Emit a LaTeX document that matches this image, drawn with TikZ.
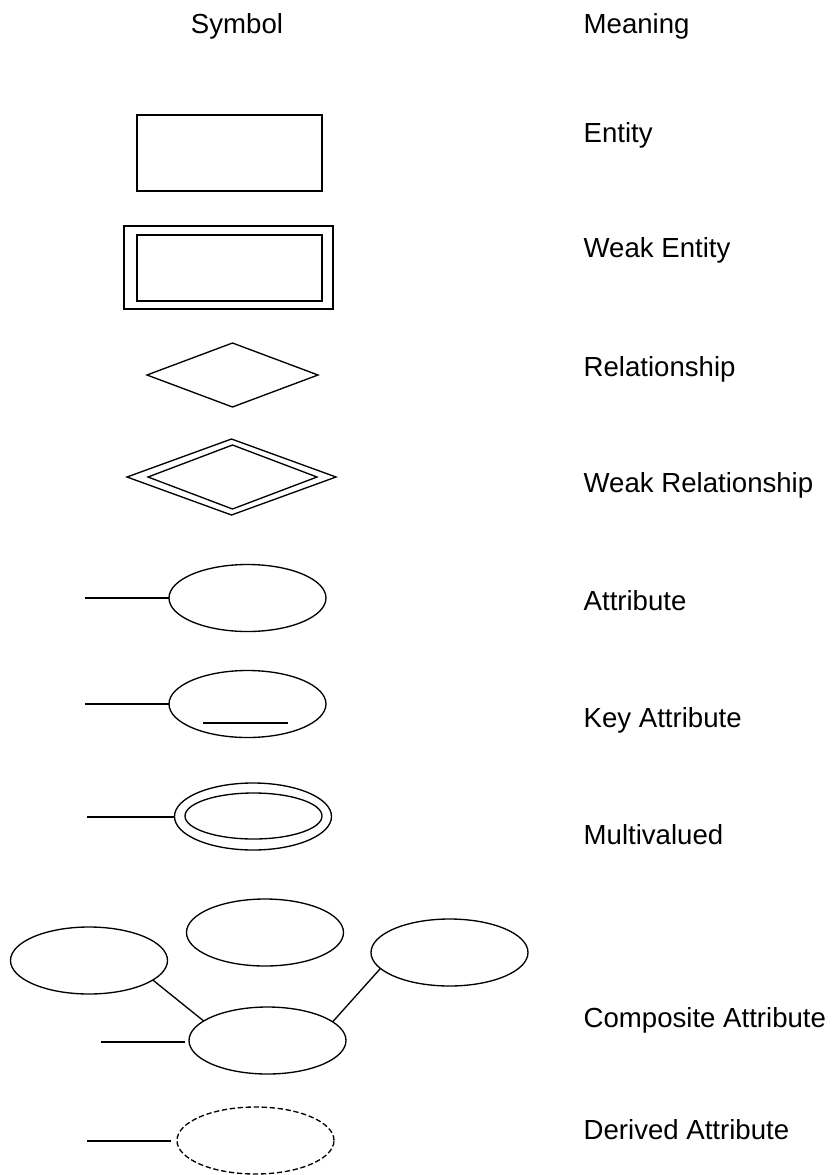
\documentclass[tikz,border=0pt]{standalone}
\usepackage{fontspec}
\setmainfont{Liberation Sans}
\usetikzlibrary{shapes.geometric}

\begin{document}
\begin{tikzpicture}[
    x=0.75pt, y=-0.75pt,
    line width=1pt,
    every node/.style={font=\fontsize{20.7}{25}\selectfont},
    label/.style={
        anchor=base west,
        inner sep=0pt
    },
    shapebox/.style={
        draw,
        inner sep=0pt,
        outer sep=0pt
    },
    attrshape/.style={
        shapebox,
        ellipse,
        minimum width=117.75pt,
        minimum height=50.25pt
    }
]
    \useasboundingbox (0,0) rectangle (836,1175);

    % Column headings
    \node[anchor=base, inner sep=0pt] (symhead) at (237,33) {Symbol};
    \node[label] (meanhead) at (583,33) {Meaning};

    % Entities
    \node[shapebox, rectangle, minimum width=138.75pt, minimum height=57pt]
        (ent) at (229.5,153) {};
    \node[shapebox, rectangle, minimum width=156.75pt, minimum height=62.25pt]
        (wkent) at (228.5,267.5) {};
    \node[shapebox, rectangle, minimum width=138.75pt, minimum height=49.5pt]
        (wkentin) at (229.5,268) {};

    % Relationships
    \node[shapebox, diamond, minimum width=128.25pt, minimum height=48pt]
        (rel) at (232.5,375) {};
    \node[shapebox, diamond, minimum width=156.75pt, minimum height=57pt]
        (wkrel) at (231.5,477) {};
    \node[shapebox, diamond, minimum width=126.75pt, minimum height=48pt]
        (wkrelin) at (232.5,477) {};

    % Attributes
    \node[attrshape] (attr) at (247.5,598) {};
    \coordinate (attrend) at (85,598);
    \draw (attrend) -- (attrend -| attr.west);

    \node[attrshape] (keyattr) at (247.5,704) {};
    \coordinate (keyend) at (85,704);
    \draw (keyend) -- (keyend -| keyattr.west);
    \draw (keyattr.center) ++(-44.5,19) -- ++(85,0);

    \node[attrshape] (multi) at (253,816.5) {};
    \node[shapebox, ellipse, minimum width=102.75pt, minimum height=34.5pt]
        (multiin) at (253.5,816) {};
    \coordinate (multiend) at (87,817);
    \draw (multiend) -- (multiend -| multi.west);

    % Composite attribute
    \node[attrshape] (compl) at (89,960.5) {};
    \node[attrshape] (compt) at (265,932.5) {};
    \node[attrshape] (compr) at (449.5,952.5) {};
    \node[attrshape] (comp) at (267.5,1040.5) {};
    \coordinate (compend) at (101,1042);
    \draw[shorten >=3pt] (compend) -- (compend -| comp.west);
    \draw (compl.-17) -- (comp.163);
    \draw (compr.193) -- (comp.16);

    % Derived attribute
    \node[attrshape, dash pattern=on 4pt off 2pt] (derived) at (255.5,1140.5) {};
    \coordinate (derivedend) at (87,1141);
    \draw[shorten >=4.5pt] (derivedend) -- (derivedend -| derived.west);

    % Meanings
    \node[label] (lent) at (583,142) {Entity};
    \node[label] (lwkent) at (583,257) {Weak Entity};
    \node[label] (lrel) at (583,376) {Relationship};
    \node[label] (lwkrel) at (583,492) {Weak Relationship};
    \node[label] (lattr) at (583,610) {Attribute};
    \node[label] (lkey) at (583,727) {Key Attribute};
    \node[label] (lmulti) at (583,844) {Multivalued};
    \node[label] (lcomp) at (583,1027) {Composite Attribute};
    \node[label] (lderived) at (583,1139) {Derived Attribute};

\end{tikzpicture}
\end{document}
